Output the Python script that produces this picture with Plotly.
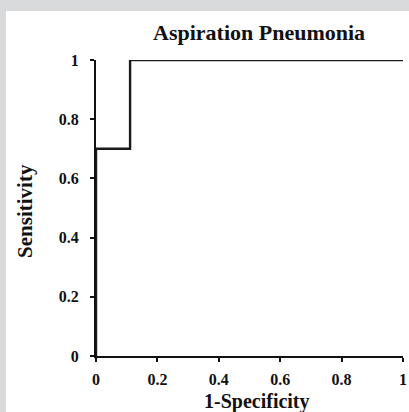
import plotly.graph_objects as go

# ROC curve points (1-Specificity, Sensitivity)
fpr = [0.0, 0.0, 0.111, 0.111, 1.0]
tpr = [0.0, 0.7, 0.7, 1.0, 1.0]
tick_vals = [0, 0.2, 0.4, 0.6, 0.8, 1]
tick_text = ["0", "0.2", "0.4", "0.6", "0.8", "1"]

title_text = "Aspiration Pneumonia"
x_title = "1-Specificity"
y_title = "Sensitivity"

FONT = "Liberation Serif"
INK = "#111111"
GRAY = "#d9dadb"

fig = go.Figure()
fig.add_trace(go.Scatter(
    x=fpr, y=tpr, mode="lines",
    line=dict(color="#1a1a1a", width=2.4),
    hoverinfo="skip", showlegend=False,
))

axis_common = dict(
    range=[0, 1],
    tickvals=tick_vals, ticktext=tick_text,
    showgrid=False, zeroline=False,
    showline=True, linecolor=INK, linewidth=2,
    ticks="outside", ticklen=4, tickwidth=2, tickcolor=INK,
    tickfont=dict(family=FONT, size=16, color=INK, weight="bold"),
    automargin=False,
)

fig.update_xaxes(**axis_common, ticklabelstandoff=4)
fig.update_yaxes(**axis_common, ticklabelstandoff=8)

fig.update_layout(
    width=409, height=412,
    margin=dict(l=96, r=6, t=60, b=56),
    paper_bgcolor=GRAY,
    plot_bgcolor="white",
    font=dict(family=FONT, color=INK),
    shapes=[
        dict(type="rect", xref="paper", yref="paper",
             x0=-90 / 307, x1=1 + 10 / 307,
             y0=-60 / 296, y1=1 + 49 / 296,
             fillcolor="white", line=dict(width=0), layer="below"),
    ],
    annotations=[
        dict(text="<b>%s</b>" % title_text, xref="paper", yref="paper",
             x=0.53, y=1 + 28 / 296, xanchor="center", yanchor="middle",
             showarrow=False, font=dict(family=FONT, size=22, color=INK)),
        dict(text="<b>%s</b>" % x_title, xref="paper", yref="paper",
             x=0.525, y=-45 / 296, xanchor="center", yanchor="middle",
             showarrow=False, font=dict(family=FONT, size=20, color=INK)),
        dict(text="<b>%s</b>" % y_title, xref="paper", yref="paper",
             x=-71 / 307, y=0.49, xanchor="center", yanchor="middle",
             textangle=-90,
             showarrow=False, font=dict(family=FONT, size=21, color=INK)),
    ],
)

fig.write_html(
    "out.html",
    config={"displayModeBar": False},
    post_script="document.body.style.margin='0';"
                "document.body.style.background='%s';" % GRAY,
)
